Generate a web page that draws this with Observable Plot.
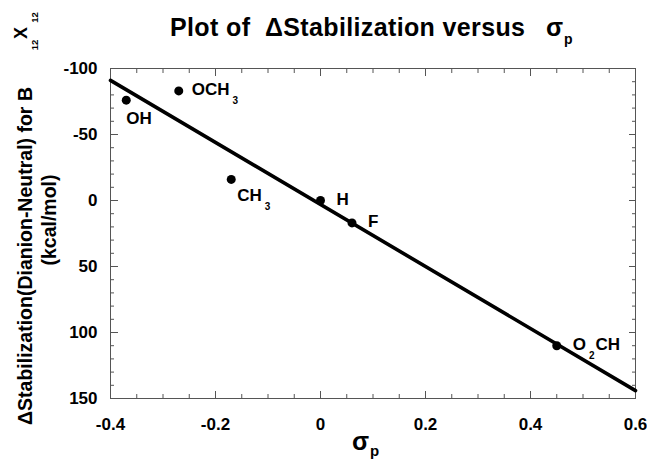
<!DOCTYPE html>
<html><head><meta charset="utf-8">
<script src="https://cdn.jsdelivr.net/npm/d3@7"></script>
<script src="https://cdn.jsdelivr.net/npm/@observablehq/plot@0.6"></script>
<style>
body{margin:0;background:#fff;}
svg text{white-space:pre;}
</style>
</head><body><div id="chart"></div>
<script>
// ---- data ----
const substituents = ["OH", "OCH_3", "CH_3", "H", "F", "O_2CH"];
const sigmaP = [-0.37, -0.27, -0.17, 0.0, 0.06, 0.45];
const stabilization = [-76, -83, -16, 0, 17, 110];
const fitSigma = [-0.4, 0.6];
const fitStab = [-91, 144];
const xTicks = [-0.4, -0.2, 0, 0.2, 0.4, 0.6];
const xTickLabels = ["-0.4", "-0.2", "0", "0.2", "0.4", "0.6"];
const yTicks = [-100, -50, 0, 50, 100, 150];
const yTickLabels = ["-100", "-50", "0", "50", "100", "150"];
const xMinor = d3.range(-0.4, 0.6001, 0.05).map(v => +v.toFixed(2));
const yMinor = d3.range(-100, 151, 10);
// label offsets (pixels) relative to each point
const labelDx = [0, 13, 6, 16, 16, 16];
const labelDy = [18, -1, 16, -1, -1, -1];

const FONT = '"Liberation Sans", Arial, Helvetica, sans-serif';
const W = 647, H = 461;
const M = {left: 110, right: 12, top: 68, bottom: 63};

const pts = substituents.map((s, i) => ({name: s, x: sigmaP[i], y: stabilization[i]}));
const fit = fitSigma.map((x, i) => ({x, y: fitStab[i]}));
const xFmt = d => xTickLabels[xTicks.indexOf(d)];
const yFmt = d => yTickLabels[yTicks.indexOf(d)];
const none = () => "";
const axisColor = "#555";

const plot = Plot.plot({
  width: W, height: H,
  marginLeft: M.left, marginRight: M.right, marginTop: M.top, marginBottom: M.bottom,
  style: {fontFamily: FONT, fontSize: "17px", fontWeight: "bold", color: "#000", background: "#fff", overflow: "visible"},
  x: {domain: [-0.4, 0.6], label: null},
  y: {domain: [-100, 150], reverse: true, label: null},
  marks: [
    Plot.frame({stroke: axisColor, strokeWidth: 1}),
    // bottom
    Plot.axisX(xMinor, {anchor: "bottom", tickSize: -4, tickFormat: none, stroke: axisColor}),
    Plot.axisX(xTicks, {anchor: "bottom", tickSize: -7, tickPadding: 26, tickFormat: xFmt, stroke: axisColor, fill: "#000"}),
    // top
    Plot.axisX(xMinor, {anchor: "top", tickSize: -4, tickFormat: none, stroke: axisColor}),
    Plot.axisX(xTicks, {anchor: "top", tickSize: -7, tickFormat: none, stroke: axisColor}),
    // left
    Plot.axisY(yMinor, {anchor: "left", tickSize: -4, tickFormat: none, stroke: axisColor}),
    Plot.axisY(yTicks, {anchor: "left", tickSize: -8, tickPadding: 21, tickFormat: yFmt, stroke: axisColor, fill: "#000"}),
    // right
    Plot.axisY(yMinor, {anchor: "right", tickSize: -4, tickFormat: none, stroke: axisColor}),
    Plot.axisY(yTicks, {anchor: "right", tickSize: -7, tickFormat: none, stroke: axisColor}),
    Plot.line(fit, {x: "x", y: "y", stroke: "#000", strokeWidth: 3.6}),
    Plot.dot(pts, {x: "x", y: "y", r: 4.5, fill: "#000", stroke: "none"}),
    ...pts.map((p, i) => Plot.text([p], {
      x: "x", y: "y", text: "name", dx: labelDx[i], dy: labelDy[i],
      textAnchor: "start", fontSize: 17, fontWeight: "bold", fill: "#000"
    }))
  ]
});

// subscripts: "A_nB" -> A, subscript n, then B
d3.select(plot).selectAll("text").each(function() {
  const t = this.textContent;
  if (!t.includes("_")) return;
  const m = t.match(/^([^_]*)_(\d+)(.*)$/);
  const el = d3.select(this);
  el.text(null);
  el.append("tspan").text(m[1]);
  el.append("tspan").attr("dx", 3).attr("dy", 9).attr("font-size", 10).text(m[2]);
  if (m[3]) el.append("tspan").attr("dx", 1).attr("dy", -9).text(m[3]);
});

const svg = d3.select(plot);
const T = (x, y, size) => svg.append("text").attr("x", x).attr("y", y)
  .attr("text-anchor", "start").attr("font-family", FONT).attr("font-weight", "bold")
  .attr("font-size", size).attr("fill", "#000");
// title
T(170, 36, 25).attr("textLength", 355).attr("lengthAdjust", "spacing")
  .text("Plot of  \u0394Stabilization versus");
const ts = T(546, 36, 25);
ts.append("tspan").text("\u03c3");
ts.append("tspan").attr("dx", 1).attr("dy", 8).attr("font-size", 14).text("p");

// x axis label
const xl = T(352, 450, 25);
xl.append("tspan").text("\u03c3");
xl.append("tspan").attr("dx", 1).attr("dy", 6).attr("font-size", 15).text("p");

// y axis label (rotated)
const R = (x, y, size, txt) => svg.append("text").attr("transform", `translate(${x},${y}) rotate(-90)`)
  .attr("text-anchor", "middle").attr("font-family", FONT).attr("font-weight", "bold")
  .attr("font-size", size).attr("fill", "#000").text(txt);
R(32, 256, 19.5, "\u0394Stabilization(Dianion-Neutral) for B");
R(56, 220, 19.5, "(kcal/mol)");
R(27, 33, 18, "X");
R(38, 45, 9.5, "12");
R(38, 17.5, 9.5, "12");

document.getElementById("chart").appendChild(plot);
</script>
</body></html>
